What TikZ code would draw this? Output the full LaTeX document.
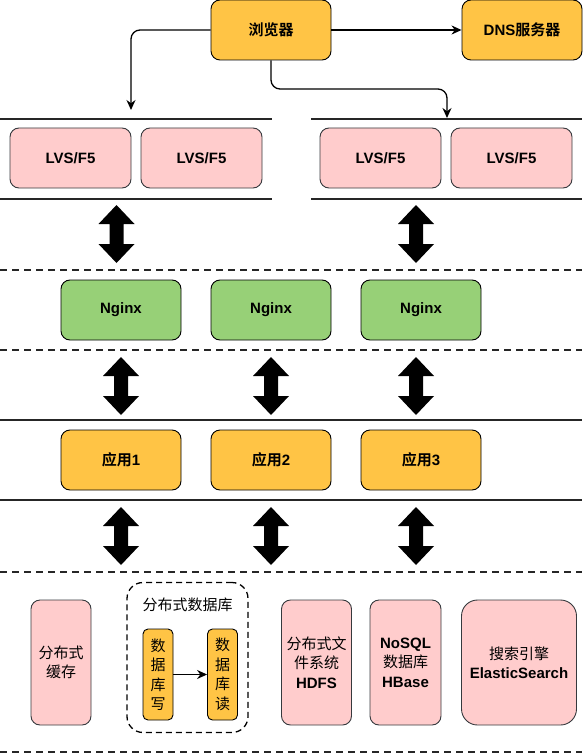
\documentclass[tikz,border=0pt]{standalone}
\usepackage{fontspec}
\setmainfont{Liberation Sans}
\newfontfamily\cjk{Noto Sans CJK SC}[BoldFont={Noto Sans CJK SC Bold}]
\usetikzlibrary{arrows.meta}
\definecolor{orangefill}{HTML}{FFC445}
\definecolor{pinkfill}{HTML}{FFCCCC}
\definecolor{greenfill}{HTML}{97D077}
\definecolor{pinkdraw}{HTML}{36393D}
\newcommand\dblarr[3]{\fill (#1,#2) -- (#1+18,#2+19) -- (#1+7,#2+19) -- (#1+7,#3-19) -- (#1+18,#3-19) -- (#1,#3) -- (#1-18,#3-19) -- (#1-7,#3-19) -- (#1-7,#2+19) -- (#1-18,#2+19) -- cycle;}
\tikzset{
  box/.style={rounded corners=9pt, draw, line width=0.9pt, inner sep=0pt, align=center,
    font=\fontsize{15}{19.5}\selectfont},
  obox/.style={box, fill=orangefill, draw=black, minimum width=120pt, minimum height=60pt, font=\fontsize{15}{19.5}\selectfont\bfseries},
  pbox/.style={box, fill=pinkfill, draw=pinkdraw},
  lvsbox/.style={pbox, minimum width=121pt, minimum height=60pt, font=\fontsize{15}{19.5}\selectfont\bfseries},
  gbox/.style={box, fill=greenfill, draw=black, minimum width=120pt, minimum height=60pt, font=\fontsize{15}{19.5}\selectfont\bfseries},
  sep/.style={line width=1.6pt, draw=black!85},
  dsep/.style={line width=1.6pt, draw=black!85, dash pattern=on 7pt off 5pt},
  conn/.style={line width=1.3pt, rounded corners=9pt, -{Stealth[length=10pt,width=9pt]}},
}
\begin{document}
\begin{tikzpicture}[x=1pt,y=-1pt]
\useasboundingbox (0,0) rectangle (582,754);
% top
\node[obox] (browser) at (271,30) {{\cjk 浏览器}};
\node[obox] (dns) at (522,30) {DNS{\cjk 服务器}};
\coordinate (tipL) at (131,110);
\coordinate (tipR) at (447,118);
\draw[conn] (browser.west) -| (tipL);
\draw[conn] (browser.south) |- (447,89) -- (tipR);
\draw[conn] (browser.east) -- (dns.west);
% LVS layer
\draw[sep] (0,119) -- (272,119);
\draw[sep] (311,119) -- (582,119);
\node[lvsbox] (lvs1) at (70.5,158) {LVS/F5};
\node[lvsbox] (lvs2) at (201.5,158) {LVS/F5};
\node[lvsbox] (lvs3) at (380.5,158) {LVS/F5};
\node[lvsbox] (lvs4) at (511.5,158) {LVS/F5};
\draw[sep] (0,199) -- (272,199);
\draw[sep] (311,199) -- (582,199);
\dblarr{116.5}{205}{263}
\dblarr{416}{205}{263}
\draw[dsep] (0,270) -- (582,270);
% Nginx
\node[gbox] (ng1) at (121,310) {Nginx};
\node[gbox] (ng2) at (271,310) {Nginx};
\node[gbox] (ng3) at (421,310) {Nginx};
\draw[dsep] (0,350) -- (582,350);
\dblarr{121}{357}{415}
\dblarr{271}{357}{415}
\dblarr{416}{357}{415}
% apps
\draw[sep] (0,420) -- (582,420);
\node[obox] (app1) at (121,460) {{\cjk 应用}1};
\node[obox] (app2) at (271,460) {{\cjk 应用}2};
\node[obox] (app3) at (421,460) {{\cjk 应用}3};
\draw[sep] (0,500) -- (582,500);
\dblarr{121}{507}{565}
\dblarr{271}{507}{565}
\dblarr{416}{507}{565}
\draw[dsep] (0,572) -- (582,572);
% storage
\node[pbox, minimum width=60pt, minimum height=125pt] (cache) at (61,662.5) {{\cjk 分布式}\\{\cjk 缓存}};
\node[draw, line width=1.3pt, dash pattern=on 6pt off 4pt, rounded corners=16pt, minimum width=121pt, minimum height=150pt, inner sep=0pt] (dbgroup) at (187.5,657.5) {};
\node[font=\fontsize{15}{19.5}\selectfont] (dblabel) at (187.5,605) {{\cjk 分布式数据库}};
\node[box, fill=orangefill, draw=black, rounded corners=5pt, minimum width=30pt, minimum height=91pt] (dbw) at (158,674.5) {{\cjk 数}\\{\cjk 据}\\{\cjk 库}\\{\cjk 写}};
\node[box, fill=orangefill, draw=black, rounded corners=5pt, minimum width=30pt, minimum height=91pt] (dbr) at (222.5,674.5) {{\cjk 数}\\{\cjk 据}\\{\cjk 库}\\{\cjk 读}};
\draw[line width=1.3pt, -{Stealth[length=10pt,width=9pt]}] (dbw.east) -- (dbr.west);
\node[pbox, minimum width=70pt, minimum height=125pt] (hdfs) at (316.5,662.5) {{\cjk 分布式文}\\{\cjk 件系统}\\\textbf{HDFS}};
\node[pbox, minimum width=71pt, minimum height=125pt] (nosql) at (405.5,662.5) {\textbf{NoSQL}\\{\cjk 数据库}\\\textbf{HBase}};
\node[pbox, rounded corners=16pt, minimum width=115pt, minimum height=125pt] (es) at (519,662.5) {{\cjk 搜索引擎}\\\textbf{ElasticSearch}};
\draw[dsep] (0,752) -- (582,752);
\end{tikzpicture}
\end{document}
